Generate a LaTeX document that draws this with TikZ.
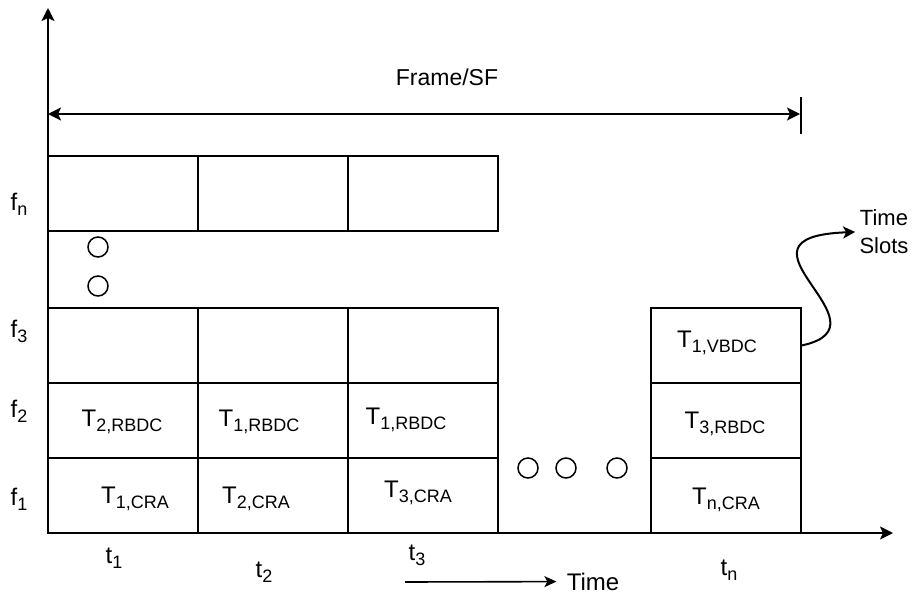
\documentclass[tikz,border=0pt]{standalone}
\usepackage{fontspec}
\setmainfont{Liberation Sans}
\usepackage{tikz}
\usetikzlibrary{arrows.meta, positioning, calc}

\newcommand{\lowidx}[1]{\raisebox{-2.5pt}{\fontsize{9}{9}\selectfont #1}}

\begin{document}
\begin{tikzpicture}[x=0.5pt, y=-0.5pt,
    font=\fontsize{12}{14}\selectfont,
    slot/.style={rectangle, draw, line width=1pt, minimum width=75pt, minimum height=37.5pt, inner sep=0pt},
    lbl/.style={anchor=base, inner sep=0pt},
    dot/.style={circle, draw, line width=0.75pt, minimum size=10pt, inner sep=0pt},
    tip/.style={-{Stealth[length=6.5pt, width=6.5pt, inset=1.5pt]}}]
    \useasboundingbox (0,0) rectangle (914,594);

    % axes
    \coordinate (o) at (48,533);
    \coordinate (ytop) at (48,8);
    \coordinate (xend) at (893,533);
    \draw[line width=1pt, tip] (o) -- (ytop);
    \draw[line width=1pt, tip] (o) -- (xend);

    % frame length
    \coordinate (fsL) at (48,114);
    \coordinate (fsR) at (800,114);
    \coordinate (fsT) at (801,97);
    \coordinate (fsB) at (801,134);
    \draw[line width=1pt, {Stealth[length=6.5pt, width=6.5pt, inset=1.5pt]}-{Stealth[length=6.5pt, width=6.5pt, inset=1.5pt]}] (fsL) -- (fsR);
    \draw[line width=1pt] (fsT) -- (fsB);
    \node[lbl, font=\fontsize{11.5}{14}\selectfont] (frame) at (447,85) {Frame/SF};

    % time slots
    \foreach \c/\x in {1/123, 2/273, 3/423} {
        \foreach \f/\y in {n/193.5, 3/345.5, 2/420.5, 1/495.5} {
            \node[slot] (s\c\f) at (\x,\y) {};
        }
    }
    \foreach \f/\y in {3/345.5, 2/420.5, 1/495.5}
        \node[slot] (sn\f) at (725.5,\y) {};

    % slot contents
    \foreach \name/\x/\y/\i in {a12/122/426/{2,RBDC}, a22/259/426/{1,RBDC}, a32/406/424/{1,RBDC}, an2/725/428/{3,RBDC},
                               a11/135/503/{1,CRA}, a21/256/503/{2,CRA}, a31/418/497/{3,CRA}, an1/726/504/{n,CRA},
                               an3/717/347/{1,VBDC}}
        \node[lbl] (\name) at (\x,\y) {T\lowidx{\i}};

    % frequencies and times
    \foreach \f/\y in {n/210, 3/337, 2/417, 1/505}
        \node[lbl] (f\f) at (19,\y) {f\lowidx{\f}};
    \foreach \t/\x/\y in {1/114/563, 2/264/577, 3/417/560, n/729/575}
        \node[lbl] (t\t) at (\x,\y) {t\lowidx{\t}};

    % omitted slots
    \foreach \n/\x/\y in {1/98/247, 2/98/286, 3/528/468, 4/566/468, 5/617/468}
        \node[dot] (d\n) at (\x,\y) {};

    % time direction
    \coordinate (tmA) at (405,582);
    \node[inner sep=5pt] (time) at (593,581.5) {Time};
    \draw[line width=0.8pt, -{Stealth[length=6pt, width=5.5pt, inset=1.5pt]}] (tmA) -- (time);

    % time slot callout
    \node[align=center, inner sep=2pt, font=\fontsize{11}{14}\selectfont] (slots) at (884,232) {Time\\Slots};
    \draw[line width=1pt, -{Stealth[length=6pt, width=6pt, inset=1.5pt]}] (sn3.east) .. controls ($(sn3.east)+(95,-20)$) and ($(slots.west)+(-140,5)$) .. (slots.west);
\end{tikzpicture}
\end{document}
